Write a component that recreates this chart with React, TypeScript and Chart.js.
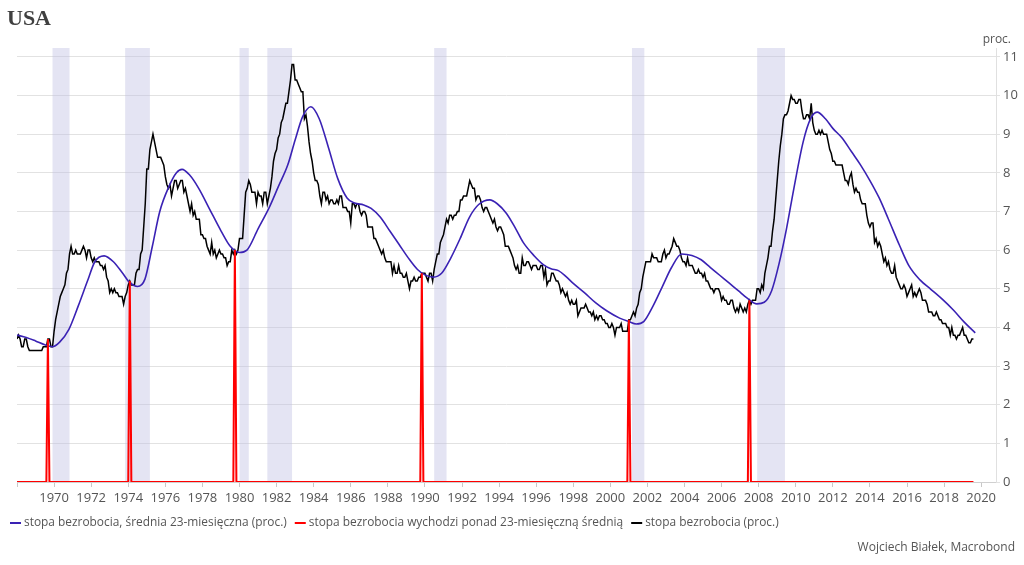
import React, { useEffect, useRef } from "react";
import { Chart, registerables } from "chart.js";

Chart.register(...registerables);

// Monthly US unemployment rate (%), Jan 1968 – Aug 2019
const startYear = 1968;
const unemployment: number[] = [
  3.7, 3.8, 3.7, 3.5, 3.5, 3.7, 3.7, 3.5, 3.4, 3.4, 3.4, 3.4,
  3.4, 3.4, 3.4, 3.4, 3.4, 3.5, 3.5, 3.5, 3.7, 3.7, 3.5, 3.5,
  3.9, 4.2, 4.4, 4.6, 4.8, 4.9, 5.0, 5.1, 5.4, 5.5, 5.9, 6.1,
  5.9, 5.9, 6.0, 5.9, 5.9, 5.9, 6.0, 6.1, 6.0, 5.8, 6.0, 6.0,
  5.8, 5.7, 5.8, 5.7, 5.7, 5.7, 5.6, 5.6, 5.5, 5.6, 5.3, 5.2,
  4.9, 5.0, 4.9, 5.0, 4.9, 4.9, 4.8, 4.8, 4.8, 4.6, 4.8, 4.9,
  5.1, 5.2, 5.1, 5.1, 5.1, 5.4, 5.5, 5.5, 5.9, 6.0, 6.6, 7.2,
  8.1, 8.1, 8.6, 8.8, 9.0, 8.8, 8.6, 8.4, 8.4, 8.4, 8.3, 8.2,
  7.9, 7.7, 7.6, 7.7, 7.4, 7.6, 7.8, 7.8, 7.6, 7.7, 7.8, 7.8,
  7.5, 7.6, 7.4, 7.2, 7.0, 7.2, 6.9, 7.0, 6.8, 6.8, 6.8, 6.4,
  6.4, 6.3, 6.3, 6.1, 6.0, 5.9, 6.2, 5.9, 6.0, 5.8, 5.9, 6.0,
  5.9, 5.9, 5.8, 5.8, 5.6, 5.7, 5.7, 6.0, 5.9, 6.0, 5.9, 6.0,
  6.3, 6.3, 6.3, 6.9, 7.5, 7.6, 7.8, 7.7, 7.5, 7.5, 7.5, 7.2,
  7.5, 7.4, 7.4, 7.2, 7.5, 7.5, 7.2, 7.4, 7.6, 7.9, 8.3, 8.5,
  8.6, 8.9, 9.0, 9.3, 9.4, 9.6, 9.8, 9.8, 10.1, 10.4, 10.8, 10.8,
  10.4, 10.4, 10.3, 10.2, 10.1, 10.1, 9.4, 9.5, 9.2, 8.8, 8.5, 8.3,
  8.0, 7.8, 7.8, 7.7, 7.4, 7.2, 7.5, 7.5, 7.3, 7.4, 7.2, 7.3,
  7.3, 7.2, 7.2, 7.3, 7.2, 7.4, 7.4, 7.1, 7.1, 7.1, 7.0, 7.0,
  6.7, 7.2, 7.2, 7.1, 7.2, 7.2, 7.0, 6.9, 7.0, 7.0, 6.9, 6.6,
  6.6, 6.6, 6.6, 6.3, 6.3, 6.2, 6.1, 6.0, 5.9, 6.0, 5.8, 5.7,
  5.7, 5.7, 5.7, 5.4, 5.6, 5.4, 5.4, 5.6, 5.4, 5.4, 5.3, 5.3,
  5.4, 5.2, 5.0, 5.2, 5.2, 5.3, 5.2, 5.2, 5.3, 5.3, 5.4, 5.4,
  5.4, 5.3, 5.2, 5.4, 5.4, 5.2, 5.5, 5.7, 5.9, 5.9, 6.2, 6.3,
  6.4, 6.6, 6.8, 6.7, 6.9, 6.9, 6.8, 6.9, 6.9, 7.0, 7.0, 7.3,
  7.3, 7.4, 7.4, 7.4, 7.6, 7.8, 7.7, 7.6, 7.6, 7.3, 7.4, 7.4,
  7.3, 7.1, 7.0, 7.1, 7.1, 7.0, 6.9, 6.8, 6.7, 6.8, 6.6, 6.5,
  6.6, 6.6, 6.5, 6.4, 6.1, 6.1, 6.1, 6.0, 5.9, 5.8, 5.6, 5.5,
  5.6, 5.4, 5.4, 5.8, 5.6, 5.6, 5.7, 5.7, 5.6, 5.5, 5.6, 5.6,
  5.6, 5.5, 5.5, 5.6, 5.6, 5.3, 5.5, 5.1, 5.2, 5.2, 5.4, 5.4,
  5.3, 5.2, 5.2, 5.1, 4.9, 5.0, 4.9, 4.8, 4.9, 4.7, 4.6, 4.7,
  4.6, 4.6, 4.7, 4.3, 4.4, 4.5, 4.5, 4.5, 4.6, 4.5, 4.4, 4.4,
  4.3, 4.4, 4.2, 4.3, 4.2, 4.3, 4.3, 4.2, 4.2, 4.1, 4.1, 4.0,
  4.0, 4.1, 4.0, 3.8, 4.0, 4.0, 4.0, 4.1, 3.9, 3.9, 3.9, 3.9,
  4.2, 4.2, 4.3, 4.4, 4.3, 4.5, 4.6, 4.9, 5.0, 5.3, 5.5, 5.7,
  5.7, 5.7, 5.7, 5.9, 5.8, 5.8, 5.8, 5.7, 5.7, 5.7, 5.9, 6.0,
  5.8, 5.9, 5.9, 6.0, 6.1, 6.3, 6.2, 6.1, 6.1, 6.0, 5.8, 5.7,
  5.7, 5.6, 5.8, 5.6, 5.6, 5.6, 5.5, 5.4, 5.4, 5.5, 5.4, 5.4,
  5.3, 5.4, 5.2, 5.2, 5.1, 5.0, 5.0, 4.9, 5.0, 5.0, 5.0, 4.9,
  4.7, 4.8, 4.7, 4.7, 4.6, 4.6, 4.7, 4.7, 4.5, 4.4, 4.5, 4.4,
  4.6, 4.5, 4.4, 4.5, 4.4, 4.6, 4.7, 4.6, 4.7, 4.7, 4.7, 5.0,
  5.0, 4.9, 5.1, 5.0, 5.4, 5.6, 5.8, 6.1, 6.1, 6.5, 6.8, 7.3,
  7.8, 8.3, 8.7, 9.0, 9.4, 9.5, 9.5, 9.6, 9.8, 10.0, 9.9, 9.9,
  9.8, 9.8, 9.9, 9.9, 9.6, 9.4, 9.4, 9.5, 9.5, 9.4, 9.8, 9.3,
  9.1, 9.0, 9.0, 9.1, 9.0, 9.1, 9.0, 9.0, 9.0, 8.8, 8.6, 8.5,
  8.3, 8.3, 8.2, 8.2, 8.2, 8.2, 8.2, 8.0, 7.8, 7.8, 7.7, 7.9,
  8.0, 7.7, 7.5, 7.6, 7.5, 7.5, 7.3, 7.2, 7.2, 7.2, 6.9, 6.7,
  6.6, 6.7, 6.7, 6.2, 6.3, 6.1, 6.2, 6.1, 5.9, 5.7, 5.8, 5.6,
  5.7, 5.5, 5.4, 5.4, 5.6, 5.3, 5.2, 5.1, 5.0, 5.0, 5.1, 5.0,
  4.8, 4.9, 5.0, 5.1, 4.8, 4.9, 4.8, 4.9, 5.0, 4.9, 4.7, 4.7,
  4.7, 4.6, 4.4, 4.4, 4.4, 4.3, 4.3, 4.4, 4.3, 4.2, 4.2, 4.1,
  4.1, 4.1, 4.0, 4.0, 3.8, 4.0, 3.8, 3.8, 3.7, 3.8, 3.8, 3.9,
  4.0, 3.8, 3.8, 3.7, 3.6, 3.6, 3.7, 3.7,
];

// 23-month moving average (decimal year, %)
const maDates: number[] = [
  1968.0, 1968.5, 1969.0, 1969.5, 1969.9, 1970.3, 1970.8, 1971.3, 1971.8, 1972.2,
  1972.7, 1973.2, 1973.7, 1974.1, 1974.5, 1974.9, 1975.3, 1975.7, 1976.2, 1976.6,
  1976.9, 1977.3, 1977.8, 1978.4, 1979.0, 1979.5, 1980.0, 1980.4, 1981.0, 1981.6,
  1982.1, 1982.6, 1983.0, 1983.4, 1983.85, 1984.3, 1984.8, 1985.3, 1985.8, 1986.2,
  1986.7, 1987.1, 1987.6, 1988.1, 1988.6, 1989.1, 1989.6, 1990.0, 1990.45, 1990.9,
  1991.4, 1991.9, 1992.4, 1992.9, 1993.5, 1993.9, 1994.4, 1994.9, 1995.3, 1995.9,
  1996.4, 1996.8, 1997.2, 1997.6, 1998.0, 1998.6, 1999.2, 1999.8, 2000.5, 2001.0,
  2001.4, 2001.8, 2002.3, 2002.8, 2003.3, 2003.85, 2004.4, 2004.9, 2005.4, 2005.9,
  2006.4, 2006.9, 2007.4, 2007.9, 2008.3, 2008.7, 2009.1, 2009.5, 2009.9, 2010.4,
  2010.8, 2011.15, 2011.6, 2012.0, 2012.5, 2013.0, 2013.5, 2014.0, 2014.5, 2015.0,
  2015.6, 2016.1, 2016.7, 2017.3, 2017.9, 2018.5, 2019.1, 2019.68,
];
const maValues: number[] = [
  3.8, 3.74, 3.65, 3.55, 3.5, 3.62, 3.95, 4.55, 5.2, 5.7,
  5.85, 5.7, 5.4, 5.15, 5.06, 5.25, 6.1, 7.0, 7.65, 8.0,
  8.09, 7.95, 7.6, 7.05, 6.5, 6.1, 5.94, 6.0, 6.55, 7.1,
  7.65, 8.2, 8.85, 9.45, 9.71, 9.4, 8.65, 7.85, 7.35, 7.22,
  7.17, 7.08, 6.85, 6.5, 6.15, 5.8, 5.5, 5.36, 5.3, 5.4,
  5.8, 6.3, 6.85, 7.18, 7.3, 7.2, 6.95, 6.55, 6.2, 5.85,
  5.62, 5.52, 5.47, 5.32, 5.14, 4.9, 4.64, 4.43, 4.24, 4.15,
  4.09, 4.15, 4.55, 5.05, 5.55, 5.9, 5.86, 5.75, 5.55, 5.35,
  5.15, 4.95, 4.75, 4.61, 4.65, 4.95, 5.65, 6.55, 7.6, 8.8,
  9.4, 9.57, 9.4, 9.15, 8.9, 8.55, 8.2, 7.8, 7.35, 6.8,
  6.12, 5.6, 5.23, 4.98, 4.73, 4.45, 4.13, 3.86,
];

// Months where the rate rises above its 23-month average (year, month, value)
const crossYears: number[] = [1969, 1974, 1979, 1989, 2001, 2007];
const crossMonths: number[] = [9, 2, 10, 11, 1, 7];
const crossValues: number[] = [3.7, 5.2, 6.0, 5.4, 4.2, 4.7];

// Recessions (decimal years)
const recessionStarts: number[] = [1969.917, 1973.833, 1980.0, 1981.5, 1990.5, 2001.167, 2007.917];
const recessionEnds: number[] = [1970.833, 1975.167, 1980.5, 1982.833, 1991.167, 2001.833, 2009.417];

const xTickYears: number[] = [
  1968, 1970, 1972, 1974, 1976, 1978, 1980, 1982, 1984, 1986, 1988, 1990, 1992, 1994,
  1996, 1998, 2000, 2002, 2004, 2006, 2008, 2010, 2012, 2014, 2016, 2018, 2020,
];
const yTicks: number[] = [0, 1, 2, 3, 4, 5, 6, 7, 8, 9, 10, 11];

const labelMA = "stopa bezrobocia, średnia 23-miesięczna (proc.)";
const labelCross = "stopa bezrobocia wychodzi ponad 23-miesięczną średnią";
const labelRate = "stopa bezrobocia (proc.)";

const FONT = "'Open Sans', 'Noto Sans', sans-serif";
const TEXT = "#555";

export default function App() {
  const ref = useRef<HTMLCanvasElement | null>(null);

  useEffect(() => {
    if (!ref.current) return;

    const rateData = unemployment.map((v, i) => ({ x: startYear + i / 12, y: v }));
    const crossIdx = crossYears.map((y, k) => (y - startYear) * 12 + crossMonths[k] - 1);
    const crossData = unemployment.map((_, i) => {
      const k = crossIdx.indexOf(i);
      return { x: startYear + i / 12, y: k >= 0 ? crossValues[k] : 0 };
    });
    const maData = maDates.map((d, i) => ({ x: d, y: maValues[i] }));

    const bandsPlugin = {
      id: "bands",
      beforeDatasetsDraw(chart: any) {
        const { ctx, chartArea, scales } = chart;
        ctx.save();
        ctx.fillStyle = "rgba(190,190,226,0.42)";
        recessionStarts.forEach((s, i) => {
          const x0 = scales.x.getPixelForValue(s);
          const x1 = scales.x.getPixelForValue(recessionEnds[i]);
          ctx.fillRect(x0, chartArea.top, x1 - x0, chartArea.bottom - chartArea.top);
        });
        ctx.restore();
      },
    };

    const textPlugin = {
      id: "texts",
      afterDraw(chart: any) {
        const ctx = chart.ctx;
        ctx.save();
        ctx.fillStyle = "#404040";
        ctx.font = "bold 22px 'Liberation Serif', serif";
        ctx.textBaseline = "alphabetic";
        ctx.textAlign = "left";
        ctx.fillText("USA", 7, 25);

        ctx.fillStyle = TEXT;
        ctx.font = `12px ${FONT}`;
        ctx.textAlign = "right";
        ctx.textBaseline = "middle";
        ctx.fillText("proc.", 1011, 40);

        ctx.font = `12px ${FONT}`;
        ctx.fillText("Wojciech Białek, Macrobond", 1015, 548);

        // legend
        ctx.font = `11.9px ${FONT}`;
        ctx.textAlign = "left";
        let x = 10;
        const y = 523;
        chart.data.datasets.forEach((ds: any) => {
          ctx.fillStyle = ds.borderColor;
          ctx.fillRect(x, y - 1, 11, 2);
          x += 14;
          ctx.fillStyle = TEXT;
          ctx.fillText(ds.label, x, y);
          x += ctx.measureText(ds.label).width + 8;
        });
        ctx.restore();
      },
    };

    const chart = new Chart(ref.current, {
      type: "line",
      data: {
        datasets: [
          {
            label: labelMA,
            data: maData,
            borderColor: "#3a22b4",
            backgroundColor: "#3a22b4",
            borderWidth: 1.6,
            pointRadius: 0,
            cubicInterpolationMode: "monotone",
            order: 2,
          },
          {
            label: labelCross,
            data: crossData,
            borderColor: "#ff0000",
            backgroundColor: "#ff0000",
            borderWidth: 2,
            pointRadius: 0,
            tension: 0,
            order: 1,
          },
          {
            label: labelRate,
            data: rateData,
            borderColor: "#000000",
            backgroundColor: "#000000",
            borderWidth: 1.5,
            pointRadius: 0,
            tension: 0,
            order: 3,
          },
        ],
      },
      options: {
        animation: false,
        responsive: false,
        devicePixelRatio: 1,
        layout: { padding: { top: 48, left: 17, right: 0, bottom: 58 } },
        plugins: {
          legend: { display: false },
          tooltip: { enabled: false },
        },
        scales: {
          x: {
            type: "linear",
            min: 1968,
            max: 2020.8,
            afterBuildTicks: (scale: any) => {
              scale.ticks = xTickYears.map((v) => ({ value: v }));
            },
            afterFit: (scale: any) => {
              scale.height = 25;
            },
            ticks: {
              autoSkip: false,
              maxRotation: 0,
              padding: 3,
              color: TEXT,
              font: { family: FONT, size: 13 },
              callback: (v: any) => (v === 1968 ? "" : String(v)),
            },
            grid: {
              drawOnChartArea: false,
              drawTicks: true,
              tickLength: 5,
              color: "#c8c8c8",
            },
            border: { display: true, color: "#d0d0d0" },
          },
          y: {
            type: "linear",
            position: "right",
            min: 0,
            max: 11.23,
            afterBuildTicks: (scale: any) => {
              scale.ticks = yTicks.map((v) => ({ value: v }));
            },
            afterFit: (scale: any) => {
              scale.width = 28;
            },
            ticks: {
              padding: 3,
              color: TEXT,
              font: { family: FONT, size: 13 },
            },
            grid: {
              color: "#e2e2e2",
              tickLength: 4,
              lineWidth: 1,
            },
            border: { display: true, color: "#e0e0e0" },
          },
        },
      },
      plugins: [bandsPlugin, textPlugin],
    } as any);

    return () => chart.destroy();
  }, []);

  return (
    <div style={{ position: "absolute", left: 0, top: 0, width: 1024, height: 565, background: "#fff" }}>
      <canvas ref={ref} width={1024} height={565} />
    </div>
  );
}
